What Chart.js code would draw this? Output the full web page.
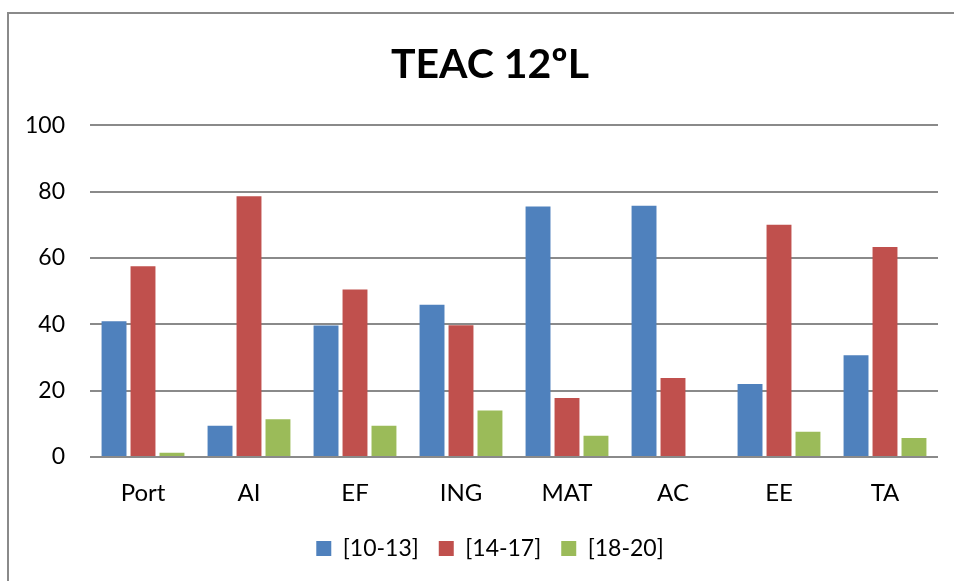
<!DOCTYPE html>
<html>
<head>
<meta charset="utf-8">
<script src="https://cdn.jsdelivr.net/npm/chart.js@4/dist/chart.umd.min.js"></script>
<style>
    html, body { margin: 0; padding: 0; background: #fff; overflow: hidden; }
    #wrap { position: relative; width: 954px; height: 581px; }
    #frame {
        position: absolute; left: 7px; top: 12px; width: 1000px; height: 700px;
        border-left: 2px solid #8a8a8a; border-top: 2px solid #8a8a8a;
    }
    #teacChart { position: absolute; left: 0; top: 0; }
</style>
</head>
<body>
<div id="wrap">
    <div id="frame"></div>
    <canvas id="teacChart" width="954" height="581"></canvas>
</div>
<script>
// Subjects (categories)
const subjects = ['Port', 'AI', 'EF', 'ING', 'MAT', 'AC', 'EE', 'TA'];

// Grade ranges (series)
const seriesLabels = ['[10-13]', '[14-17]', '[18-20]'];

// Percentages
const grades10to13 = [40.9, 9.4, 39.6, 45.9, 75.5, 75.7, 22.0, 30.7];
const grades14to17 = [57.5, 78.6, 50.5, 39.7, 17.8, 23.8, 70.0, 63.3];
const grades18to20 = [1.3, 11.4, 9.4, 14.0, 6.4, 0, 7.6, 5.7];

// Y axis ticks
const yTicks = [0, 20, 40, 60, 80, 100];

const SERIES_COLORS = ['#4F81BD', '#C0504D', '#9BBB59'];
const FONT = 'Lato, "Open Sans", sans-serif';

// Title and legend sit a little right of the canvas centre in the original
const centreShift = {
    id: 'centreShift',
    afterLayout(chart) {
        [chart.titleBlock, chart.legend].forEach(box => {
            if (!box) return;
            box.left += 11;
            box.right += 11;
        });
    }
};

const ctx = document.getElementById('teacChart');

new Chart(ctx, {
    type: 'bar',
    data: {
        labels: subjects,
        datasets: [grades10to13, grades14to17, grades18to20].map((values, i) => ({
            label: seriesLabels[i],
            data: values,
            backgroundColor: SERIES_COLORS[i],
            borderWidth: 0,
            categoryPercentage: 0.82,
            barPercentage: 0.86
        }))
    },
    plugins: [centreShift],
    options: {
        responsive: false,
        animation: false,
        layout: {
            padding: { left: 20, right: 16, top: 0, bottom: 11 }
        },
        plugins: {
            title: {
                display: true,
                text: 'TEAC 12ºL',
                color: '#000',
                font: { family: FONT, size: 41, weight: 'bold' },
                padding: { top: 40, bottom: 36 }
            },
            legend: {
                display: true,
                position: 'bottom',
                labels: {
                    color: '#000',
                    font: { family: FONT, size: 23 },
                    boxWidth: 15,
                    boxHeight: 15,
                    padding: 20
                }
            },
            tooltip: { enabled: false }
        },
        scales: {
            x: {
                grid: { display: false },
                border: { display: false },
                ticks: {
                    color: '#000',
                    font: { family: FONT, size: 24 },
                    padding: 14
                },
                afterFit: function (scale) {
                    scale.height = 60;
                }
            },
            y: {
                min: 0,
                max: 100,
                afterBuildTicks: function (scale) {
                    scale.ticks = yTicks.map(v => ({ value: v }));
                },
                grid: {
                    color: '#8a8a8a',
                    lineWidth: 2,
                    drawTicks: false
                },
                border: { display: false },
                ticks: {
                    color: '#000',
                    font: { family: FONT, size: 23 },
                    padding: 25
                },
                afterFit: function (scale) {
                    scale.width = 70;
                }
            }
        }
    }
});
</script>
</body>
</html>
